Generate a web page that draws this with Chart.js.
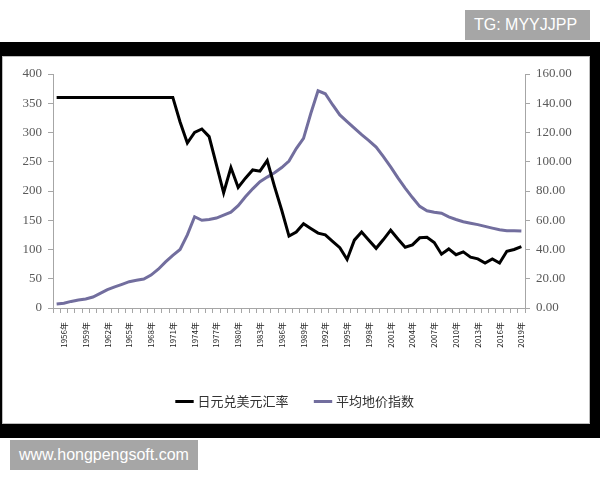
<!DOCTYPE html>
<html>
<head>
<meta charset="utf-8">
<script src="https://cdn.jsdelivr.net/npm/chart.js@4"></script>
<style>
  body { margin: 0; background: #fff; width: 600px; height: 480px; position: relative; overflow: hidden; }
  #band { position: absolute; left: 0; top: 42px; width: 600px; height: 396px; background: #000; }
  #frame { position: absolute; left: 2px; top: 56px; width: 588px; height: 368px; background: #fff; box-shadow: inset 0 0 0 1px #bdbdbd; }
  .tag { position: absolute; background: #a6a6a6; color: #fff; font-family: "Liberation Sans", Arial, sans-serif; font-size: 16px; line-height: 30px; padding: 0 9px; }
</style>
</head>
<body>
<div class="tag" style="left:465px; top:10px; width:107px;">TG: MYYJJPP</div>
<div id="band"></div>
<div id="frame"><canvas id="chart" width="588" height="368"></canvas></div>
<div class="tag" style="left:10px; top:440px;">www.hongpengsoft.com</div>
<script>
// years 1955 - 2019
var years = [];
for (var y = 1955; y <= 2019; y++) years.push(y + '年');

// 日元兑美元汇率 (left axis)
var yenRate = [
  360, 360, 360, 360, 360, 360, 360, 360, 360, 360,
  360, 360, 360, 360, 360, 360, 360, 318, 282, 300,
  306, 293, 245, 197, 240, 206, 222, 236, 234, 252,
  208, 167, 123, 130, 144, 136, 128, 125, 114, 103,
  83, 116, 130, 116, 102, 117, 133, 118, 104, 108,
  120, 121, 112, 92, 101, 91, 96, 87, 84, 77,
  84, 77, 97, 100, 105
];

// 平均地价指数 (right axis)
var landIndex = [
  2.7, 3.2, 4.5, 5.5, 6.2, 7.5, 10, 12.5, 14.5, 16.2,
  18, 19, 19.8, 22.5, 26.5, 31.5, 36, 40, 50, 62.4,
  60, 60.5, 61.5, 63.5, 65.5, 70, 76, 81.5, 86.3, 89.5,
  92.5, 96, 100.5, 109, 116, 133, 148.5, 146.5, 139, 132,
  127.5, 123, 118.5, 114.5, 110, 103.5, 96.5, 89, 82, 75.5,
  69.5, 66.5, 65.5, 64.8, 62.3, 60.5, 59, 58, 57, 55.8,
  54.6, 53.5, 52.9, 52.8, 52.6
];

var axisGray = '#a6a6a6';
var tickFont = { family: '"Liberation Serif", "DejaVu Serif", serif', size: 13 };

var ctx = document.getElementById('chart').getContext('2d');
var chart = new Chart(ctx, {
  type: 'line',
  data: {
    labels: years,
    datasets: [{
      label: '日元兑美元汇率',
      data: yenRate,
      borderColor: '#000000',
      backgroundColor: '#000000',
      borderWidth: 3,
      pointRadius: 0,
      yAxisID: 'y'
    }, {
      label: '平均地价指数',
      data: landIndex,
      borderColor: '#726e9e',
      backgroundColor: '#726e9e',
      borderWidth: 3,
      pointRadius: 0,
      yAxisID: 'y1'
    }]
  },
  options: {
    responsive: false,
    animation: false,
    layout: { padding: { top: 18, left: 0, right: 0, bottom: 6 } },
    plugins: {
      legend: {
        position: 'bottom',
        labels: {
          usePointStyle: true,
          pointStyle: 'line',
          boxWidth: 26,
          padding: 28,
          color: '#333',
          font: { family: '"Noto Sans CJK SC", sans-serif', size: 13 }
        }
      },
      tooltip: { enabled: false }
    },
    scales: {
      x: {
        offset: true,
        grid: { display: true, drawOnChartArea: false, offset: true, tickLength: 5, color: axisGray },
        border: { color: axisGray },
        afterFit: function (scale) { scale.height = 59; },
        ticks: {
          autoSkip: false,
          minRotation: 90,
          maxRotation: 90,
          padding: 9,
          color: '#222',
          font: { family: '"Noto Sans CJK SC", sans-serif', size: 8 },
          callback: function (val, i) { return i % 3 === 1 ? years[i] : ''; }
        }
      },
      y: {
        position: 'left',
        min: 0, max: 400,
        afterFit: function (scale) { scale.width = 51; },
        grid: { drawOnChartArea: false, tickLength: 5, color: axisGray },
        border: { color: axisGray },
        ticks: { stepSize: 50, color: '#595959', font: tickFont, padding: 6 }
      },
      y1: {
        position: 'right',
        min: 0, max: 160,
        afterFit: function (scale) { scale.width = 65; },
        grid: { drawOnChartArea: false, tickLength: 5, color: axisGray },
        border: { color: axisGray },
        ticks: {
          stepSize: 20, color: '#595959', font: tickFont, padding: 6,
          callback: function (v) { return v.toFixed(2); }
        }
      }
    }
  }
});
</script>
</body>
</html>
